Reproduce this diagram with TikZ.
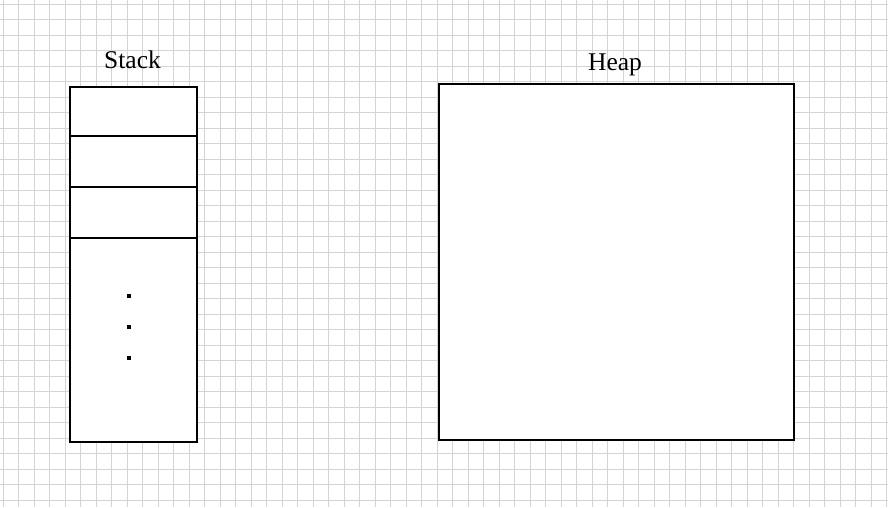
\documentclass[tikz,border=0pt]{standalone}
\usepackage{fontspec}
\setmainfont{Liberation Serif}
\begin{document}
\begin{tikzpicture}[x=1pt,y=-1pt,
  gridline/.style={draw=black!17,line width=0.9pt},
  boxline/.style={draw=black,line width=1.8pt},
  title/.style={font=\fontsize{25.5}{30}\selectfont,inner sep=0pt,anchor=base},
  dotmark/.style={rectangle,fill=black,inner sep=0pt,minimum size=3.2pt}]
\useasboundingbox (0,0) rectangle (888,507);
\fill[white] (0,0) rectangle (888,507);
% grid
\foreach \i in {0,...,57} {\draw[gridline] ({3.3+15.5*\i},0) -- ({3.3+15.5*\i},507);}
\foreach \j in {0,...,32} {\draw[gridline] (0,{4+15.5*\j}) -- (888,{4+15.5*\j});}
% stack
\node[boxline,fill=white,minimum width=127pt,minimum height=355pt,inner sep=0pt,anchor=north west] (stack) at (69,86) {};
\coordinate (d1l) at (69,136); \coordinate (d1r) at (196,136);
\coordinate (d2l) at (69,187); \coordinate (d2r) at (196,187);
\coordinate (d3l) at (69,238); \coordinate (d3r) at (196,238);
\draw[boxline] (d1l) -- (d1r);
\draw[boxline] (d2l) -- (d2r);
\draw[boxline] (d3l) -- (d3r);
\node[dotmark] (p1) at (129,296) {};
\node[dotmark] (p2) at (129,327) {};
\node[dotmark] (p3) at (129,358) {};
\node[title] (stacklabel) at (132.5,68) {Stack};
% heap
\node[boxline,fill=white,minimum width=355pt,minimum height=356pt,inner sep=0pt,anchor=north west] (heap) at (438,83) {};
\node[title] (heaplabel) at (615,70) {Heap};
\end{tikzpicture}
\end{document}
